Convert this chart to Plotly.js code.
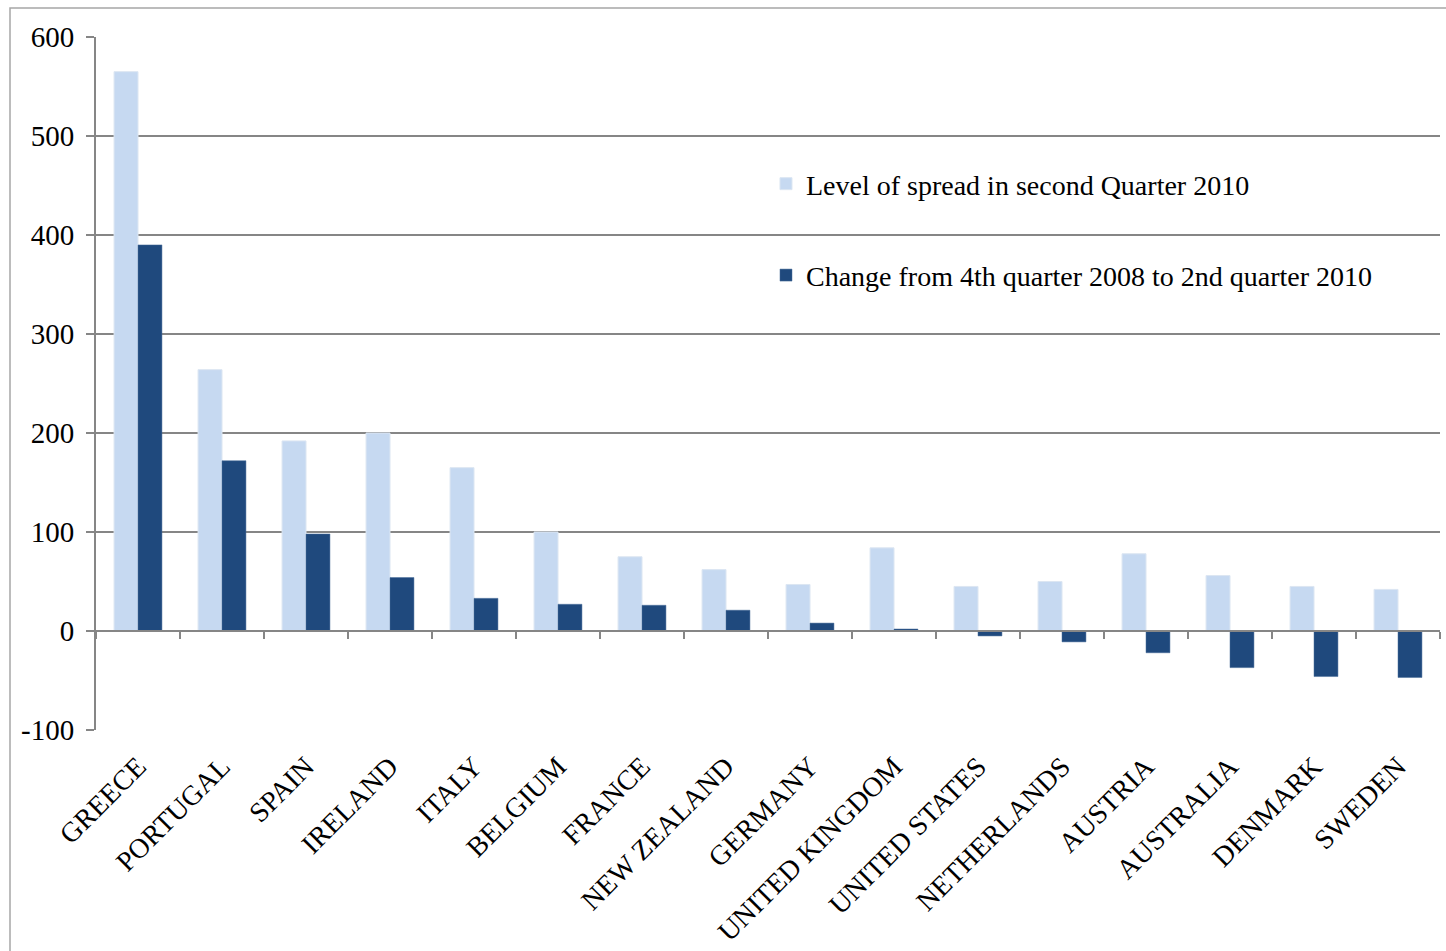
<!DOCTYPE html>
<html>
<head>
<meta charset="utf-8">
<script src="https://cdn.plot.ly/plotly-3.0.1.min.js"></script>
<style>html,body{margin:0;padding:0;background:#fff;}#chart{width:1446px;height:951px;}</style>
</head>
<body>
<div id="chart"></div>
<script>
const countries = ["GREECE","PORTUGAL","SPAIN","IRELAND","ITALY","BELGIUM","FRANCE","NEW ZEALAND","GERMANY","UNITED KINGDOM","UNITED STATES","NETHERLANDS","AUSTRIA","AUSTRALIA","DENMARK","SWEDEN"];
const levelQ2_2010 = [565, 264, 192, 200, 165, 100, 75, 62, 47, 84, 45, 50, 78, 56, 45, 42];
const change08to10 = [390, 172, 98, 54, 33, 27, 26, 21, 8, 2, -5, -11, -22, -37, -46, -47];
const seriesNames = ["Level of spread in second Quarter 2010", "Change from 4th quarter 2008 to 2nd quarter 2010"];
const yTicks = [-100, 0, 100, 200, 300, 400, 500, 600];

const FONT = "'Liberation Serif', 'Times New Roman', serif";

const traces = [
  {type:'bar', name:seriesNames[0], x:countries, y:levelQ2_2010, legendgroup:'a',
   marker:{color:'#c6d9f1', line:{color:'#dce6f2', width:1}}, hoverinfo:'x+y'},
  {type:'bar', name:seriesNames[1], x:countries, y:change08to10, legendgroup:'b',
   marker:{color:'#1f497d', line:{color:'#4a6e9a', width:0.5}}, hoverinfo:'x+y'},
  {type:'scatter', mode:'none', x:countries, y:countries.map(()=>null), xaxis:'x2', yaxis:'y',
   showlegend:false, hoverinfo:'skip'}
];

const layout = {
  width:1446, height:951,
  margin:{l:96, r:6, t:37, b:221},
  paper_bgcolor:'#fff', plot_bgcolor:'#fff',
  font:{family:FONT, color:'#000', size:28},
  barmode:'group', bargap:0.43, bargroupgap:0,
  showlegend:true,
  legend:{x:0.4985, y:0.824, xanchor:'left', yanchor:'top', bgcolor:'rgba(0,0,0,0)',
          font:{family:FONT, size:28, color:'#000'}, tracegroupgap:52, traceorder:'grouped'},
  xaxis:{type:'category', categoryorder:'array', categoryarray:countries, range:[-0.5, 15.5],
         showgrid:false, zeroline:false, showline:false,
         ticks:'outside', ticklen:8, tickcolor:'rgba(0,0,0,0)', tickangle:-45,
         tickfont:{family:FONT, size:28, color:'#000'}, fixedrange:true},
  xaxis2:{type:'category', categoryorder:'array', categoryarray:countries, range:[-0.5, 15.5],
          overlaying:'x', anchor:'free', position:1/7, side:'bottom',
          showgrid:false, zeroline:false, showline:true, linecolor:'#868686', linewidth:2,
          ticks:'outside', tickson:'boundaries', ticklen:7, tickwidth:2, tickcolor:'#868686',
          showticklabels:false},
  yaxis:{range:[-100, 600], tickvals:yTicks, ticktext:yTicks.map(String),
         showgrid:true, gridcolor:'#868686', gridwidth:1.5, zeroline:false,
         showline:true, linecolor:'#868686', linewidth:2,
         ticks:'outside', ticklen:8, tickwidth:2, tickcolor:'#868686', ticklabelstandoff:6,
         tickfont:{family:FONT, size:29, color:'#000'}},
  shapes:[{type:'rect', xref:'paper', yref:'paper',
           x0:(10-96)/1344, x1:(1460-96)/1344, y0:(730-970)/693, y1:1+(37-8)/693,
           line:{color:'#a6a6a6', width:1.5}, fillcolor:'rgba(0,0,0,0)', layer:'below'}]
};

Plotly.newPlot('chart', traces, layout, {displayModeBar:false, staticPlot:true});
</script>
</body>
</html>
